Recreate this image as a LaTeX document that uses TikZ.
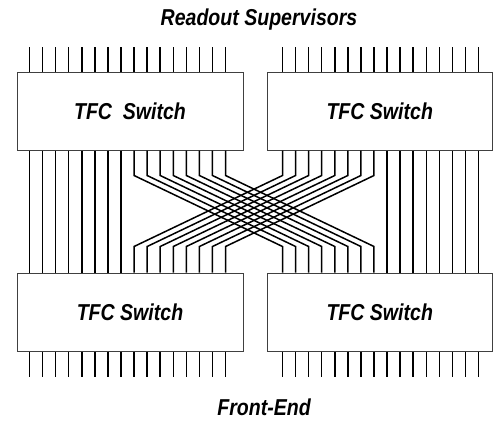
\documentclass[tikz,border=0pt]{standalone}
\usepackage{fontspec}
\newfontfamily\labfont{Liberation Sans}
\usetikzlibrary{calc}
\newcommand\narrowtxt[1]{\scalebox{0.85}[1]{#1}}
\begin{document}
\begin{tikzpicture}[x=1pt,y=-1pt,
  lblfont/.style={font=\labfont\bfseries\itshape\fontsize{23}{27}\selectfont},
  swbox/.style={draw=black!75,line width=1pt,minimum width=226pt,minimum height=78pt,inner sep=0pt,lblfont},
  title/.style={anchor=base,inner sep=0pt,lblfont},
  pin/.style={line width=1.5pt,black}]
\useasboundingbox (0,0) rectangle (497,421);
\node[swbox] (TL) at (130,111) {\narrowtxt{TFC\ \ Switch}};
\node[swbox,minimum width=225.5pt] (TR) at (379.75,111) {\narrowtxt{TFC Switch}};
\node[swbox] (BL) at (130,312) {\narrowtxt{TFC Switch}};
\node[swbox,minimum width=225.5pt] (BR) at (379.75,312) {\narrowtxt{TFC Switch}};
\node[title] (RS) at (259,25) {\narrowtxt{Readout Supervisors}};
\node[title] (FE) at (264,415) {\narrowtxt{Front-End}};
% outer pins
\foreach \i in {0,...,15}{
  \pgfmathsetmacro\a{13+13.07*\i}
  \pgfmathsetmacro\b{16+13.07*\i}
  \draw[pin] ($(TL.north west)+(\a,0)$) -- ++(0,-25);
  \draw[pin] ($(TR.north west)+(\b,0)$) -- ++(0,-25);
  \draw[pin] ($(BL.south west)+(\a,0)$) -- ++(0,25);
  \draw[pin] ($(BR.south west)+(\b,0)$) -- ++(0,25);
}
% straight links
\foreach \i in {0,...,7}{
  \pgfmathsetmacro\a{13+13.07*\i}
  \draw[pin] ($(TL.south west)+(\a,0)$) -- ($(BL.north west)+(\a,0)$);
}
\foreach \i in {8,...,15}{
  \pgfmathsetmacro\b{16+13.07*\i}
  \draw[pin] ($(TR.south west)+(\b,0)$) -- ($(BR.north west)+(\b,0)$);
}
% crossing links
\foreach \i in {0,...,7}{
  \pgfmathsetmacro\a{13+13.07*(\i+8)}
  \pgfmathsetmacro\b{16+13.07*\i}
  \draw[pin] ($(TL.south west)+(\a,0)$) -- ++(0,25) -- ($(BR.north west)+(\b,-26)$) -- ($(BR.north west)+(\b,0)$);
  \draw[pin] ($(TR.south west)+(\b,0)$) -- ++(0,25) -- ($(BL.north west)+(\a,-26)$) -- ($(BL.north west)+(\a,0)$);
}
\end{tikzpicture}
\end{document}
